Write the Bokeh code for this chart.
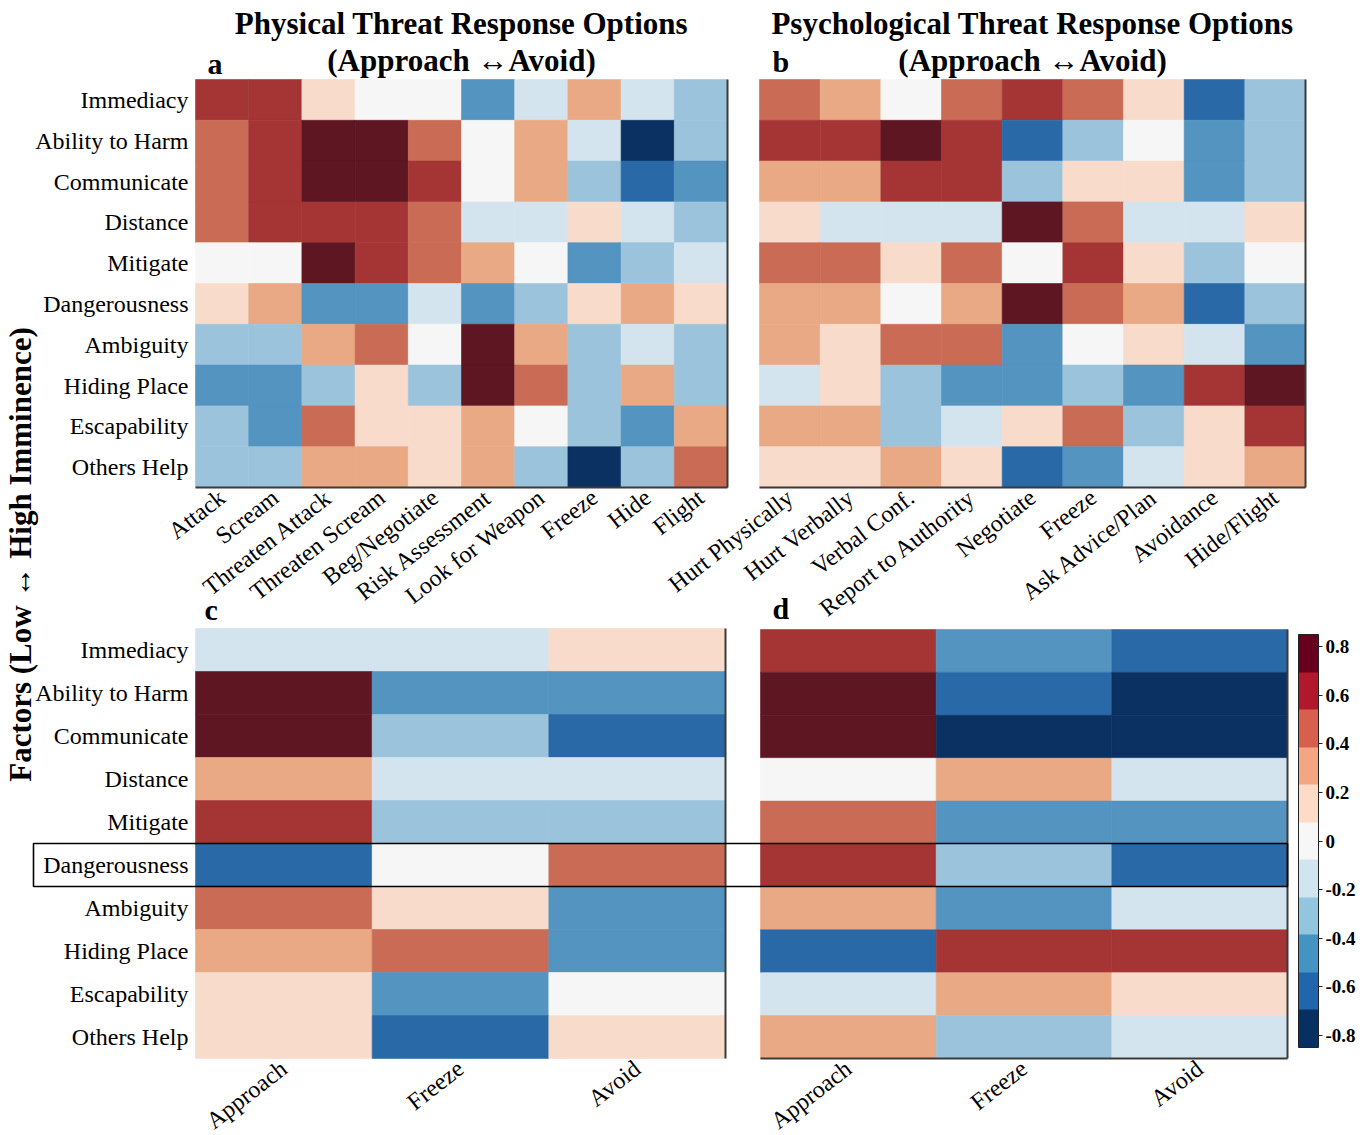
import math
from bokeh.plotting import figure
from bokeh.models import (ColumnDataSource, LinearColorMapper, ColorBar, FixedTicker,
                          Label, BoxAnnotation, LinearAxis, AllLabels)
from bokeh.transform import transform
from bokeh.embed import file_html
from bokeh.resources import INLINE

# ---------------- data ----------------
factors = ["Immediacy", "Ability to Harm", "Communicate", "Distance", "Mitigate",
           "Dangerousness", "Ambiguity", "Hiding Place", "Escapability", "Others Help"]

physical_options = ["Attack", "Scream", "Threaten Attack", "Threaten Scream", "Beg/Negotiate",
                    "Risk Assessment", "Look for Weapon", "Freeze", "Hide", "Flight"]
psych_options = ["Hurt Physically", "Hurt Verbally", "Verbal Conf.", "Report to Authority",
                 "Negotiate", "Freeze", "Ask Advice/Plan", "Avoidance", "Hide/Flight"]
summary_options = ["Approach", "Freeze", "Avoid"]

# rows follow `factors`, columns follow the option lists
physical_values = [
    [0.60, 0.60, 0.15, 0.00, 0.00, -0.45, -0.15, 0.30, -0.15, -0.30],
    [0.45, 0.60, 0.75, 0.75, 0.45, 0.00, 0.30, -0.15, -0.75, -0.30],
    [0.45, 0.60, 0.75, 0.75, 0.60, 0.00, 0.30, -0.30, -0.60, -0.45],
    [0.45, 0.60, 0.60, 0.60, 0.45, -0.15, -0.15, 0.15, -0.15, -0.30],
    [0.00, 0.00, 0.75, 0.60, 0.45, 0.30, 0.00, -0.45, -0.30, -0.15],
    [0.15, 0.30, -0.45, -0.45, -0.15, -0.45, -0.30, 0.15, 0.30, 0.15],
    [-0.30, -0.30, 0.30, 0.45, 0.00, 0.75, 0.30, -0.30, -0.15, -0.30],
    [-0.45, -0.45, -0.30, 0.15, -0.30, 0.75, 0.45, -0.30, 0.30, -0.30],
    [-0.30, -0.45, 0.45, 0.15, 0.15, 0.30, 0.00, -0.30, -0.45, 0.30],
    [-0.30, -0.30, 0.30, 0.30, 0.15, 0.30, -0.30, -0.75, -0.30, 0.45],
]
psych_values = [
    [0.45, 0.30, 0.00, 0.45, 0.60, 0.45, 0.15, -0.60, -0.30],
    [0.60, 0.60, 0.75, 0.60, -0.60, -0.30, 0.00, -0.45, -0.30],
    [0.30, 0.30, 0.60, 0.60, -0.30, 0.15, 0.15, -0.45, -0.30],
    [0.15, -0.15, -0.15, -0.15, 0.75, 0.45, -0.15, -0.15, 0.15],
    [0.45, 0.45, 0.15, 0.45, 0.00, 0.60, 0.15, -0.30, 0.00],
    [0.30, 0.30, 0.00, 0.30, 0.75, 0.45, 0.30, -0.60, -0.30],
    [0.30, 0.15, 0.45, 0.45, -0.45, 0.00, 0.15, -0.15, -0.45],
    [-0.15, 0.15, -0.30, -0.45, -0.45, -0.30, -0.45, 0.60, 0.75],
    [0.30, 0.30, -0.30, -0.15, 0.15, 0.45, -0.30, 0.15, 0.60],
    [0.15, 0.15, 0.30, 0.15, -0.60, -0.45, -0.15, 0.15, 0.30],
]
physical_summary = [
    [-0.15, -0.15, 0.15],
    [0.75, -0.45, -0.45],
    [0.75, -0.30, -0.60],
    [0.30, -0.15, -0.15],
    [0.60, -0.30, -0.30],
    [-0.60, 0.00, 0.45],
    [0.45, 0.15, -0.45],
    [0.30, 0.45, -0.45],
    [0.15, -0.45, 0.00],
    [0.15, -0.60, 0.15],
]
psych_summary = [
    [0.60, -0.45, -0.60],
    [0.75, -0.60, -0.75],
    [0.75, -0.75, -0.75],
    [0.00, 0.30, -0.15],
    [0.45, -0.45, -0.45],
    [0.60, -0.30, -0.60],
    [0.30, -0.45, -0.15],
    [-0.60, 0.60, 0.60],
    [-0.15, 0.30, 0.15],
    [0.30, -0.30, -0.15],
]
highlight_factor = "Dangerousness"
colorbar_ticks = [-0.8, -0.6, -0.4, -0.2, 0, 0.2, 0.4, 0.6, 0.8]
scale_low, scale_high = -0.85, 0.85

title_physical = "Physical Threat Response Options"
title_psych = "Psychological Threat Response Options"
subtitle = "(Approach \u2194Avoid)"
y_title = "Factors (Low \u2194 High Imminence)"

# ---------------- style / layout (page pixels) ----------------
W, H = 1360, 1133
FONT = "Liberation Serif"
SPINE = "#3a3a3a"
cell_palette = ["#0a3161", "#2a69a8", "#5394c1", "#9cc3dc", "#d3e4ef", "#f6f6f6",
                "#f8dbcb", "#eaa985", "#ca6b55", "#a53535", "#5e1623"]
bar_palette = ["#053061", "#2166ac", "#4393c3", "#92c5de", "#d1e5f0", "#f7f7f7",
               "#fddbc7", "#f4a582", "#d6604d", "#b2182b", "#67001f"]
cell_mapper = LinearColorMapper(palette=cell_palette, low=scale_low, high=scale_high)
bar_mapper = LinearColorMapper(palette=bar_palette, low=scale_low, high=scale_high)

GEO = {
    "a": dict(left=195, top=79, cw=53.2, ch=40.8, bottom_line=True),
    "b": dict(left=759, top=79, cw=60.67, ch=40.8, bottom_line=True),
    "c": dict(left=195, top=628, cw=176.67, ch=43.0, bottom_line=False),
    "d": dict(left=760, top=629, cw=175.67, ch=42.9, bottom_line=True),
}
LABEL_ANGLE = math.radians(38)

p = figure(width=W, height=H, x_range=(0, W), y_range=(H, 0),
           x_axis_type=None, y_axis_type=None, toolbar_location=None,
           output_backend="svg", min_border=0, title=None, tools="")
p.outline_line_color = None


def spine_axis(loc, bounds, side):
    ax = LinearAxis(fixed_location=loc, bounds=bounds, ticker=FixedTicker(ticks=[]),
                    axis_line_color=SPINE, axis_line_width=2,
                    major_tick_line_color=None, minor_tick_line_color=None)
    p.add_layout(ax, side)


def draw_panel(cols, vals, g):
    n_r, n_c = len(factors), len(cols)
    xs, ys, vs = [], [], []
    for i in range(n_r):
        for j in range(n_c):
            xs.append(g["left"] + (j + 0.5) * g["cw"])
            ys.append(g["top"] + (i + 0.5) * g["ch"])
            vs.append(vals[i][j])
    src = ColumnDataSource(dict(x=xs, y=ys, v=vs))
    p.rect("x", "y", width=g["cw"], height=g["ch"], source=src,
           fill_color=transform("v", cell_mapper), line_color=transform("v", cell_mapper),
           line_width=0.6)
    right = g["left"] + n_c * g["cw"]
    bottom = g["top"] + n_r * g["ch"]
    ticks = [g["left"] + (j + 0.5) * g["cw"] for j in range(n_c)]
    ax = LinearAxis(fixed_location=bottom, bounds=(g["left"], right),
                    ticker=FixedTicker(ticks=ticks),
                    major_label_overrides={t: c for t, c in zip(ticks, cols)},
                    major_label_orientation=LABEL_ANGLE, major_label_standoff=7,
                    major_label_text_font=FONT, major_label_text_font_size="24px",
                    major_label_text_color="black",
                    major_tick_line_color=None, minor_tick_line_color=None,
                    major_tick_in=0, major_tick_out=0,
                    axis_line_color=SPINE if g["bottom_line"] else None, axis_line_width=2)
    p.add_layout(ax, "below")
    spine_axis(right, (g["top"], bottom), "right")
    return right, bottom


draw_panel(physical_options, physical_values, GEO["a"])
draw_panel(psych_options, psych_values, GEO["b"])
draw_panel(summary_options, physical_summary, GEO["c"])
d_right, d_bottom = draw_panel(summary_options, psych_summary, GEO["d"])

# factor labels (shared y axis for the rows of panels a and c)
row_ticks, row_labels = [], {}
for key in ("a", "c"):
    g = GEO[key]
    for i, f in enumerate(factors):
        t = g["top"] + (i + 0.5) * g["ch"]
        row_ticks.append(t)
        row_labels[t] = f
yax = LinearAxis(fixed_location=GEO["a"]["left"], ticker=FixedTicker(ticks=row_ticks),
                 major_label_overrides=row_labels, major_label_standoff=7,
                 major_label_text_font=FONT, major_label_text_font_size="24px",
                 major_label_text_color="black", axis_line_color=None,
                 major_tick_line_color=None, minor_tick_line_color=None,
                 major_tick_in=0, major_tick_out=0)
p.add_layout(yax, "left")

# highlighted factor row across panels c and d
gc = GEO["c"]
hi = factors.index(highlight_factor)
p.add_layout(BoxAnnotation(left=33, right=d_right, top=gc["top"] + hi * gc["ch"],
                           bottom=gc["top"] + (hi + 1) * gc["ch"], fill_color=None,
                           fill_alpha=0, line_color="black", line_alpha=1.0,
                           line_width=1.6))


def text(x, y, s, size, align="left", angle=0.0):
    p.add_layout(Label(x=x, y=y, text=s, text_font=FONT, text_font_size=size,
                       text_font_style="bold", text_align=align, text_baseline="middle",
                       angle=angle, text_color="black"))


# titles (y = vertical middle of each text line)
ga, gb = GEO["a"], GEO["b"]
a_mid = ga["left"] + len(physical_options) * ga["cw"] / 2
b_mid = gb["left"] + len(psych_options) * gb["cw"] / 2
text(a_mid, 23, title_physical, "31px", align="center")
text(a_mid, 60, subtitle, "31px", align="center")
text(b_mid, 23, title_psych, "31px", align="center")
text(b_mid, 60, subtitle, "31px", align="center")
# panel letters
text(207, 63, "a", "30px")
text(772, 61, "b", "30px")
text(204, 609, "c", "30px")
text(772, 608, "d", "30px")
# shared y title
text(20, 554, y_title, "31px", align="center", angle=math.pi / 2)

cb = ColorBar(color_mapper=bar_mapper, ticker=FixedTicker(ticks=colorbar_ticks),
              major_label_overrides={t: f"{t:g}" for t in colorbar_ticks},
              major_label_policy=AllLabels(),
              width=20, height=413, location=(1298, H - 1047), margin=0, padding=0,
              bar_line_color="#222222", major_tick_line_color="#222222",
              major_tick_in=0, major_tick_out=4, label_standoff=3,
              major_label_text_font=FONT, major_label_text_font_size="19px",
              major_label_text_font_style="bold", major_label_text_color="black",
              border_line_color=None, background_fill_color=None)
p.add_layout(cb, "center")

open("out.html", "w").write(file_html(p, INLINE))
